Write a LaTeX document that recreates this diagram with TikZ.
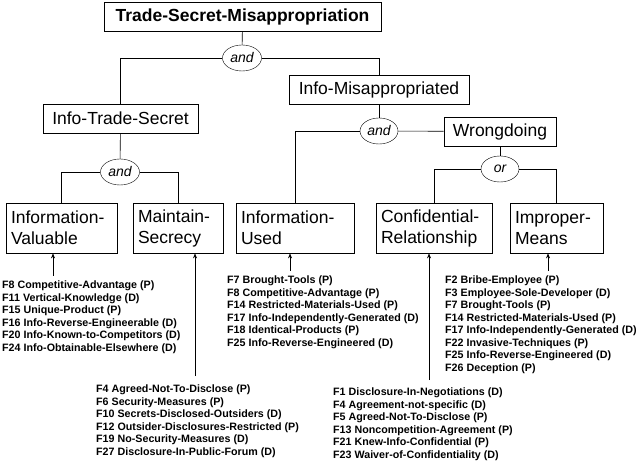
\documentclass[tikz,border=0pt]{standalone}
\usepackage{fontspec}
\setmainfont{Liberation Sans}
\usetikzlibrary{shapes.geometric,arrows.meta}
\begin{document}
\begin{tikzpicture}[x=1pt,y=-1pt,
 box/.style={draw,line width=0.8pt,inner sep=0pt,font=\fontsize{17.5}{18}\selectfont},
 bbox/.style={draw,line width=0.8pt,minimum width=#1,minimum height=50,align=left,text width=#1-10,inner sep=0pt,font=\fontsize{17.5}{21}\selectfont},
 op/.style={draw,ellipse,inner sep=0pt,minimum width=39,minimum height=26,font=\itshape\fontsize{14}{15}\selectfont},
 ln/.style={line width=0.6pt},
 arr/.style={line width=0.6pt,-{Stealth[length=5pt,width=4pt]}},
 lst/.style={anchor=north west,align=left,inner sep=0pt,font=\bfseries\fontsize{10.7}{12.5}\selectfont}]
\useasboundingbox (0,0) rectangle (640,462);
\node[box,minimum width=277,minimum height=29,font=\bfseries\fontsize{17.5}{18}\selectfont] (tsm) at (242.5,16.5) {Trade-Secret-Misappropriation};
\node[op] (and1) at (242,58) {and};
\node[box,minimum width=180,minimum height=29] (im) at (379,89.5) {Info-Misappropriated};
\node[box,minimum width=155,minimum height=29] (its) at (120.5,118.5) {Info-Trade-Secret};
\node[op] (and2) at (120,172) {and};
\node[op,minimum width=38] (and3) at (379,131) {and};
\node[box,minimum width=112,minimum height=29] (wr) at (500,131.5) {Wrongdoing};
\node[op,minimum width=38] (or) at (500,169) {or};
\node[bbox=111] (iv) at (61.5,228) {Information-\\Valuable};
\node[bbox=90] (ms) at (178,228) {Maintain-\\Secrecy};
\node[bbox=118] (iu) at (295,228) {Information-\\Used};
\node[bbox=116] (cr) at (434,228) {Confidential-\\Relationship};
\node[bbox=93] (mn) at (556.5,228) {Improper-\\Means};
\draw[ln] (tsm) -- (and1);
\draw[ln] (and1) -| (its);
\draw[ln] (and1) -| (im);
\draw[ln] (im) -- (and3);
\draw[ln] (its) -- (and2);
\draw[ln] (and2) -| (iv);
\draw[ln] (and2) -| (ms);
\draw[ln] (and3) -| (iu);
\draw[ln] (and3) -- (wr);
\draw[ln] (wr) -- (or);
\draw[ln] (or) -| (cr);
\draw[ln] (or) -| (mn);
\coordinate (c1) at (53,276); \coordinate (c2) at (195,376);
\coordinate (c3) at (290,271); \coordinate (c4) at (429,380); \coordinate (c5) at (548,271);
\draw[arr] (c1) -- (iv.south -| c1);
\draw[arr] (c2) -- (ms.south -| c2);
\draw[arr] (c3) -- (iu.south -| c3);
\draw[arr] (c4) -- (cr.south -| c4);
\draw[arr] (c5) -- (mn.south -| c5);
\node[lst] (l1) at (2,281) {F8 Competitive-Advantage (P)\\F11 Vertical-Knowledge (D)\\F15 Unique-Product (P)\\F16 Info-Reverse-Engineerable (D)\\F20 Info-Known-to-Competitors (D)\\F24 Info-Obtainable-Elsewhere (D)};
\node[lst] (l2) at (96,385) {F4 Agreed-Not-To-Disclose (P)\\F6 Security-Measures (P)\\F10 Secrets-Disclosed-Outsiders (D)\\F12 Outsider-Disclosures-Restricted (P)\\F19 No-Security-Measures (D)\\F27 Disclosure-In-Public-Forum (D)};
\node[lst] (l3) at (227,276) {F7 Brought-Tools (P)\\F8 Competitive-Advantage (P)\\F14 Restricted-Materials-Used (P)\\F17 Info-Independently-Generated (D)\\F18 Identical-Products (P)\\F25 Info-Reverse-Engineered (D)};
\node[lst] (l4) at (333,388) {F1 Disclosure-In-Negotiations (D)\\F4 Agreement-not-specific (D)\\F5 Agreed-Not-To-Disclose (P)\\F13 Noncompetition-Agreement (P)\\F21 Knew-Info-Confidential (P)\\F23 Waiver-of-Confidentiality (D)};
\node[lst] (l5) at (445,276) {F2 Bribe-Employee (P)\\F3 Employee-Sole-Developer (D)\\F7 Brought-Tools (P)\\F14 Restricted-Materials-Used (P)\\F17 Info-Independently-Generated (D)\\F22 Invasive-Techniques (P)\\F25 Info-Reverse-Engineered (D)\\F26 Deception (P)};
\end{tikzpicture}
\end{document}
